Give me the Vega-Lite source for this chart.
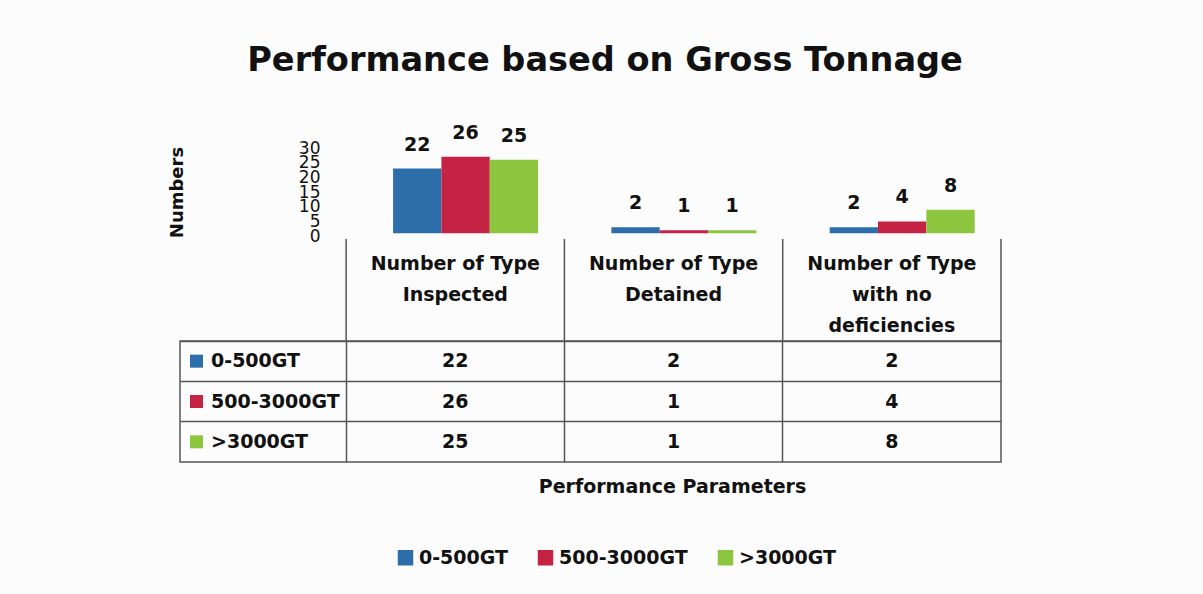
{
  "$schema": "https://vega.github.io/schema/vega-lite/v6.json",
  "background": "#fdfcfd",
  "padding": {"left": 168, "top": 44, "right": 200, "bottom": 25},
  "title": {"text": "Performance based on Gross Tonnage", "font": "DejaVu Sans", "fontSize": 33.6, "fontWeight": "bold", "color": "#111111", "anchor": "middle", "offset": 46, "dx": 20},
  "config": {"view": {"stroke": null}, "font": "DejaVu Sans"},
  "datasets": {
    "bars": [
      {"metric": "Inspected", "series": "0-500GT", "value": 22},
      {"metric": "Inspected", "series": "500-3000GT", "value": 26},
      {"metric": "Inspected", "series": ">3000GT", "value": 25},
      {"metric": "Detained", "series": "0-500GT", "value": 2},
      {"metric": "Detained", "series": "500-3000GT", "value": 1},
      {"metric": "Detained", "series": ">3000GT", "value": 1},
      {"metric": "No deficiencies", "series": "0-500GT", "value": 2},
      {"metric": "No deficiencies", "series": "500-3000GT", "value": 4},
      {"metric": "No deficiencies", "series": ">3000GT", "value": 8}
    ],
    "headers": [
      {"metric": "Inspected", "header": "Number of Type\nInspected"},
      {"metric": "Detained", "header": "Number of Type\nDetained"},
      {"metric": "No deficiencies", "header": "Number of Type\nwith no\ndeficiencies"}
    ],
    "series": [
      {"series": "0-500GT"},
      {"series": "500-3000GT"},
      {"series": ">3000GT"}
    ]
  },
  "spacing": 0,
  "bounds": "flush",
  "resolve": {"scale": {"color": "independent", "x": "independent", "y": "independent"}, "legend": {"color": "independent"}},
  "vconcat": [
    {
      "width": 821,
      "height": 94,
      "data": {"name": "bars"},
      "encoding": {
        "x": {"field": "metric", "type": "nominal", "sort": null,
          "scale": {"type": "band", "domain": ["Inspected", "Detained", "No deficiencies"], "paddingInner": 0.3358, "paddingOuter": 0.5484, "align": 0.89},
          "axis": null},
        "xOffset": {"field": "series", "type": "nominal", "sort": null,
          "scale": {"type": "band", "domain": ["0-500GT", "500-3000GT", ">3000GT"], "paddingInner": 0, "paddingOuter": 0}},
        "y": {"field": "value", "type": "quantitative",
          "scale": {"domain": [-2, 30], "nice": false},
          "axis": {"values": [0, 5, 10, 15, 20, 25, 30], "orient": "left", "offset": -142, "ticks": false, "domain": false, "grid": false,
            "labelFont": "DejaVu Sans", "labelFontSize": 17, "labelColor": "#111111", "labelOverlap": false, "labelPadding": 2, "labelOffset": 3,
            "title": "Numbers", "titleFont": "DejaVu Sans", "titleFontSize": 18, "titleFontWeight": "bold", "titleColor": "#111111", "titlePadding": 112}}
      },
      "layer": [
        {
          "mark": {"type": "bar"},
          "encoding": {
            "color": {"field": "series", "type": "nominal",
              "scale": {"domain": ["0-500GT", "500-3000GT", ">3000GT"], "range": ["#2C6DAA", "#C42343", "#8CC63E"]},
              "legend": {"orient": "none", "legendX": 216, "legendY": 403, "direction": "horizontal", "title": null,
                "symbolType": "square", "symbolSize": 240, "symbolStrokeWidth": 0, "symbolOpacity": 1,
                "labelFont": "DejaVu Sans", "labelFontSize": 19, "labelFontWeight": "bold", "labelColor": "#111111",
                "labelOffset": 4, "columnPadding": 28, "labelLimit": 300}}
          }
        },
        {
          "mark": {"type": "text", "baseline": "bottom", "dy": -14, "fontSize": 19, "fontWeight": "bold", "color": "#111111"},
          "encoding": {"text": {"field": "value", "type": "quantitative"}}
        }
      ]
    },
    {
      "width": 821,
      "height": 102,
      "data": {"name": "headers"},
      "encoding": {
        "x": {"field": "metric", "type": "nominal", "sort": null,
          "scale": {"type": "band", "domain": ["Inspected", "Detained", "No deficiencies"], "paddingInner": 0, "paddingOuter": 0.3805, "align": 1},
          "axis": null}
      },
      "layer": [
        {
          "mark": {"type": "rule", "color": "#555555", "strokeWidth": 1.5},
          "encoding": {"x": {"field": "metric", "type": "nominal", "bandPosition": 0}}
        },
        {
          "transform": [{"filter": "datum.metric === 'No deficiencies'"}],
          "mark": {"type": "rule", "color": "#555555", "strokeWidth": 1.5},
          "encoding": {"x": {"field": "metric", "type": "nominal", "bandPosition": 1}}
        },
        {
          "mark": {"type": "text", "baseline": "top", "dy": 16, "lineBreak": "\n", "lineHeight": 31, "fontSize": 19, "fontWeight": "bold", "color": "#111111"},
          "encoding": {
            "y": {"datum": 1, "type": "quantitative", "scale": {"domain": [0, 1]}, "axis": null},
            "text": {"field": "header"}
          }
        }
      ]
    },
    {
      "width": 821,
      "height": 121,
      "view": {"stroke": "#555555", "strokeWidth": 1.5},
      "resolve": {"scale": {"x": "independent", "color": "independent"}},
      "layer": [
        {
          "data": {"name": "bars"},
          "mark": {"type": "text", "fontSize": 19, "fontWeight": "bold", "color": "#111111", "baseline": "middle"},
          "encoding": {
            "x": {"field": "metric", "type": "nominal", "sort": null,
              "scale": {"type": "band", "domain": ["Inspected", "Detained", "No deficiencies"], "paddingInner": 0, "paddingOuter": 0.3805, "align": 1},
              "axis": {"grid": true, "bandPosition": 0, "gridColor": "#555555", "gridWidth": 1.5, "gridOpacity": 1, "labels": false, "ticks": false, "domain": false,
                "title": "Performance Parameters", "titleFont": "DejaVu Sans", "titleFontSize": 19, "titleFontWeight": "bold", "titleColor": "#111111", "titlePadding": 15, "titleX": 492, "titleAlign": "center"}},
            "y": {"field": "series", "type": "nominal", "sort": null,
              "scale": {"type": "band", "domain": ["0-500GT", "500-3000GT", ">3000GT"], "paddingInner": 0, "paddingOuter": 0},
              "axis": {"grid": true, "bandPosition": 0, "gridColor": "#555555", "gridWidth": 1.5, "gridOpacity": 1, "labels": false, "ticks": false, "domain": false, "title": null}},
            "text": {"field": "value", "type": "quantitative"}
          }
        },
        {
          "data": {"name": "series"},
          "resolve": {"scale": {"x": "independent"}},
          "layer": [
            {
              "mark": {"type": "point", "shape": "square", "filled": true, "size": 169, "opacity": 1},
              "encoding": {
                "x": {"datum": 0.0201, "type": "quantitative", "scale": {"domain": [0, 1]}, "axis": null},
                "y": {"field": "series", "type": "nominal", "sort": null},
                "color": {"field": "series", "type": "nominal", "scale": {"domain": ["0-500GT", "500-3000GT", ">3000GT"], "range": ["#2C6DAA", "#C42343", "#8CC63E"]}, "legend": null}
              }
            },
            {
              "mark": {"type": "text", "align": "left", "baseline": "middle", "fontSize": 19, "fontWeight": "bold", "color": "#111111"},
              "encoding": {
                "x": {"datum": 0.0378, "type": "quantitative", "scale": {"domain": [0, 1]}, "axis": null},
                "y": {"field": "series", "type": "nominal", "sort": null},
                "text": {"field": "series"}
              }
            }
          ]
        }
      ]
    }
  ]
}
